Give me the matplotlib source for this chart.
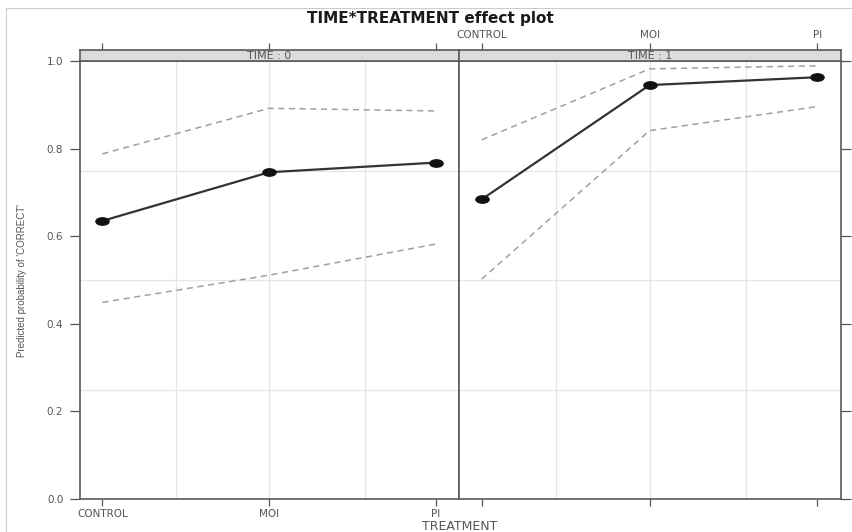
import numpy as np
import matplotlib
matplotlib.use('Agg')
from matplotlib import pyplot as plt
from matplotlib.path import Path
from matplotlib.transforms import Affine2D
from matplotlib.lines import Line2D

plt.rcParams['font.family'] = ['DejaVu Sans']

treatments = ['CONTROL', 'MOI', 'PI']
panels = ['TIME : 0', 'TIME : 1']
# fitted probability and confidence band, one row per TIME
fit = [[0.635, 0.746, 0.768],
       [0.684, 0.945, 0.963]]
upper = [[0.788, 0.892, 0.886],
         [0.820, 0.982, 0.989]]
lower = [[0.449, 0.511, 0.582],
         [0.502, 0.841, 0.896]]
y_ticks = [0.0, 0.2, 0.4, 0.6, 0.8, 1.0]

W, H = 853, 532
fig = plt.figure(figsize=(W / 100, H / 100), dpi=100)

def fx(px):
	return px / W

def fy(py):
	return 1 - py / H

ax_l = [80, 459]
ax_r = [459, 841]
top, bot = 61, 499
strip_h = 11
frame = '#5a5a5a'
x = np.arange(len(treatments))

# the picture is stretched sideways, so the points are flat ellipses
dot = Path.unit_circle().transformed(Affine2D().scale(1.8, 1.0))

for i in range(2):
	ax = fig.add_axes([fx(ax_l[i]), fy(bot), fx(ax_r[i] - ax_l[i]), (bot - top) / H])
	ax.set_xlim(-0.135, 2.14)
	ax.set_ylim(0, 1)
	# grid (lattice style)
	for gx in [0.44, 1.0, 1.575]:
		ax.axvline(gx, color='#e6e6e6', lw=0.9, zorder=0)
	for gy in [0.25, 0.5, 0.75]:
		ax.axhline(gy, color='#e6e6e6', lw=0.9, zorder=0)
	ax.plot(x, upper[i], color='#a0a0a0', lw=1.1, ls=(0, (4, 3)))
	ax.plot(x, lower[i], color='#a0a0a0', lw=1.1, ls=(0, (4, 3)))
	ax.plot(x, fit[i], color='#333333', lw=1.6, marker=dot, ms=9.5,
			mfc='#111111', mec='#111111')
	for s in ax.spines.values():
		s.set_color(frame)
		s.set_linewidth(1.2)
	ax.set_xticks(x)
	ax.set_yticks(y_ticks)
	ax.tick_params(colors='#555555', labelcolor='#555555', labelsize=7.5,
				   length=5, width=0.9, direction='out')
	if i == 0:
		ax.set_xticklabels(treatments)
		ax.set_yticklabels(['%.1f' % v for v in y_ticks])
		ax.tick_params(axis='y', length=7, pad=5)
		ax.tick_params(axis='x', pad=2)
	else:
		ax.tick_params(axis='x', labelbottom=False)
		ax.tick_params(axis='y', left=False, labelleft=False, right=True,
					   length=7)

	# strip on top
	sax = fig.add_axes([fx(ax_l[i]), fy(top), fx(ax_r[i] - ax_l[i]), strip_h / H])
	sax.set_xlim(-0.135, 2.14)
	sax.set_ylim(0, 1)
	sax.set_facecolor('#dcdcdc')
	for s in sax.spines.values():
		s.set_color(frame)
		s.set_linewidth(1.2)
	sax.text(0.5, 0.42, panels[i], transform=sax.transAxes, ha='center',
			 va='center', fontsize=8, color='#555555')
	sax.set_yticks([])
	sax.set_xticks(x)
	sax.tick_params(axis='x', bottom=False, labelbottom=False, top=True,
					length=5, width=0.9, colors='#555555')
	if i == 1:
		sax.set_xticklabels(treatments)
		sax.tick_params(axis='x', labeltop=True, labelsize=7.5,
						labelcolor='#555555', pad=2)

fig.text(fx(430), fy(18), 'TIME*TREATMENT effect plot', ha='center',
		 va='center', fontsize=11, fontweight='bold', color='#1a1a1a')
fig.text(fx(460), fy(526), 'TREATMENT', ha='center', va='center',
		 fontsize=9, color='#555555')
fig.text(fx(22), fy(281), "Predicted probability of 'CORRECT'", rotation=90,
		 ha='center', va='center', fontsize=7, color='#555555',
		 family=['Liberation Sans Narrow', 'Liberation Sans', 'DejaVu Sans'])

# light frame round the picture
fig.add_artist(Line2D([fx(6), 1], [fy(8), fy(8)], color='#cccccc', lw=0.8))
fig.add_artist(Line2D([fx(6), fx(6)], [fy(8), 0], color='#cccccc', lw=0.8))

fig.savefig('out.png', dpi=100)
